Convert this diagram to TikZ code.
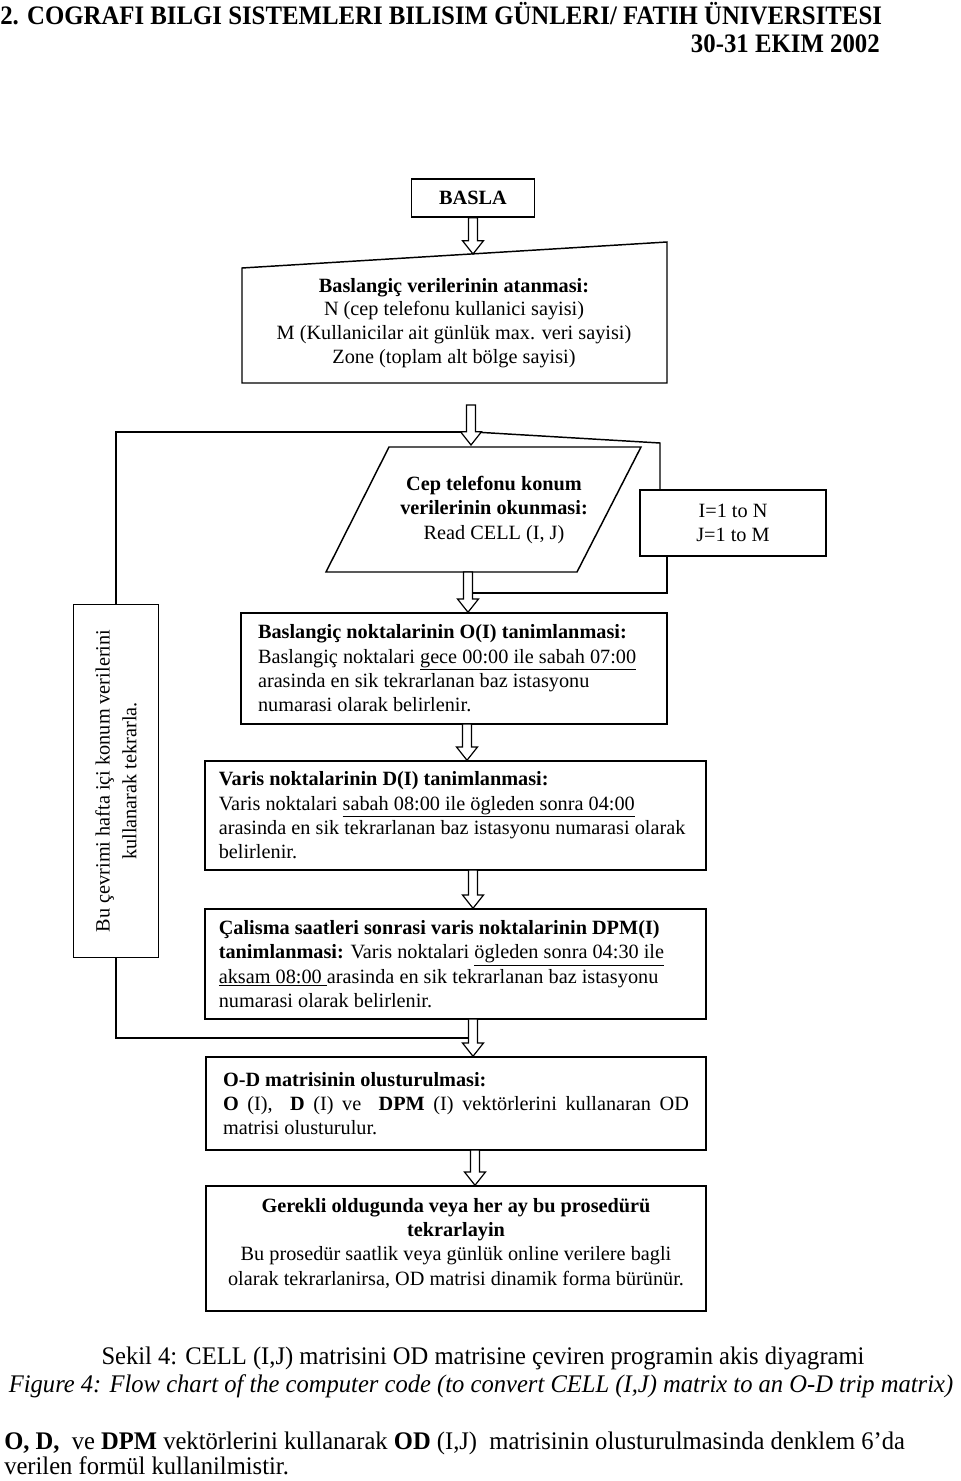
\documentclass[tikz,border=0pt]{standalone}
\usepackage{fontspec}
\setmainfont{Liberation Serif}
\newfontfamily\headfont[FakeStretch=0.93]{Liberation Serif}
\newfontfamily\capfont[FakeStretch=0.97]{Liberation Serif}
\usetikzlibrary{calc}
\newcommand\boxfont{\fontsize{15.2}{18.2}\selectfont}
\tikzset{
  box/.style 2 args={draw, line width=1.1pt, minimum width=#1*0.75pt,
    minimum height=#2*0.75pt, inner sep=0pt, font=\boxfont},
  outline/.style={draw, line width=1.1pt},
  link/.style={draw, line width=1.1pt},
  blockarrow/.style={draw, line width=0.9pt, fill=white,
    to path={let \p1=(\tikztostart), \p2=(\tikztotarget) in
      (\x1-3.4pt,\y1) -- (\x1-3.4pt,\y2+10pt) -- (\x1-7.9pt,\y2+10pt)
      -- (\x1,\y2) -- (\x1+7.9pt,\y2+10pt) -- (\x1+3.4pt,\y2+10pt)
      -- (\x1+3.4pt,\y1) -- cycle}}
}
\begin{document}
\begin{tikzpicture}[x=0.75pt,y=-0.75pt]
  \useasboundingbox (0,0) rectangle (960,1481);

  % header
  \node[anchor=west, inner sep=0pt, font=\headfont\fontsize{20}{22}\selectfont\bfseries] (head) at (0,14)
    {2. COGRAFI BILGI SISTEMLERI BILISIM GÜNLERI/ FATIH ÜNIVERSITESI};
  \node[anchor=east, inner sep=0pt, font=\headfont\fontsize{20}{22}\selectfont\bfseries] (date) at (880,44)
    {30-31 EKIM 2002};

  % flow chart boxes
  \node[box={123}{38}, font=\boxfont\bfseries] (basla) at (473,198) {BASLA};

  \path[outline] (242,383) -- (242,268) -- (667,242) -- (667,383) -- cycle;
  \node[align=center, font=\fontsize{15.2}{17.8}\selectfont] (init) at (454,323)
    {\textbf{Baslangiç verilerinin atanmasi:}\\ N (cep telefonu kullanici sayisi)\\
     M (Kullanicilar ait günlük max. veri sayisi)\\ Zone (toplam alt bölge sayisi)};

  \path[outline] (389,447) -- (641,447) -- (577,572) -- (326,572) -- cycle;
  \node[align=center, font=\boxfont] (read) at (494,510)
    {\textbf{Cep telefonu konum}\\ \textbf{verilerinin okunmasi:}\\ Read CELL (I, J)};

  \node[box={186}{66}, align=center] (loop) at (733,523) {I=1 to N\\ J=1 to M};

  \node[box={353}{85}, rotate=90, align=center] (rot) at (116,781)
    {Bu çevrimi hafta içi konum verilerini\\[2pt] kullanarak tekrarla.};

  \node[box={426}{111}, text width=294pt, align=flush left] (orig) at (454,668.5)
    {\textbf{Baslangiç noktalarinin O(I) tanimlanmasi:}\\
     Baslangiç noktalari \underline{gece 00:00 ile sabah 07:00}\\
     arasinda en sik tekrarlanan baz istasyonu\\
     numarasi olarak belirlenir.};

  \node[box={501}{109}, text width=355pt, align=flush left] (dest) at (455.5,815.5)
    {\textbf{Varis noktalarinin D(I) tanimlanmasi:}\\
     Varis noktalari \underline{sabah 08:00 ile ögleden sonra 04:00}\\
     arasinda en sik tekrarlanan baz istasyonu numarasi olarak\\
     belirlenir.};

  \node[box={501}{110}, text width=355pt, align=flush left] (dpm) at (455.5,964)
    {\textbf{Çalisma saatleri sonrasi varis noktalarinin DPM(I)}\\
     \textbf{tanimlanmasi:} Varis noktalari \underline{ögleden sonra 04:30 ile}\\
     \underline{aksam 08:00\ }arasinda en sik tekrarlanan baz istasyonu\\
     numarasi olarak belirlenir.};

  \node[box={500}{93}, align=left] (od) at (456,1103.5)
    {\textbf{O-D matrisinin olusturulmasi:}\\
     \makebox[349.5pt][s]{\textbf{O} (I),\ \ \textbf{D} (I) ve\ \ \textbf{DPM} (I) vektörlerini kullanaran OD}\\
     matrisi olusturulur.};

  \node[box={500}{125}, align=center] (redo) at (456,1248.5)
    {\textbf{Gerekli oldugunda veya her ay bu prosedürü}\\
     \textbf{tekrarlayin}\\
     Bu prosedür saatlik veya günlük online verilere bagli\\
     olarak tekrarlanirsa, OD matrisi dinamik forma bürünür.\\[-8pt]};

  % arrow ends
  \coordinate (initTop) at (474,254);
  \coordinate (initBot) at (471,405);
  \coordinate (readTop) at (471,445);
  \coordinate (readBot) at (468,572);
  \coordinate (origBot) at (467,724);
  \coordinate (destBot) at (473,870);
  \coordinate (dpmBot) at (473,1019);
  \coordinate (odBot) at (475,1150);
  \coordinate (turnR) at (660,443);
  \coordinate (backR) at (667,593);

  % loop lines
  \path[link] (rot.east) |- (470,432);
  \path[link] (474,432) -- (turnR) -- (turnR |- loop.north);
  \path[link] (backR |- loop.south) -- (backR) -- (readBot |- backR);
  \path[link] (rot.west) |- (dpmBot |- 0,1038);

  % block arrows
  \foreach \a / \b in {basla.south/initTop, initBot/readTop, readBot/orig.north,
      origBot/dest.north, destBot/dpm.north, dpmBot/od.north, odBot/redo.north} {
    \draw[blockarrow] (\a) to (\b);
  }

  % caption
  \node[font=\capfont\fontsize{19}{21}\selectfont] (capTr) at (483,1358)
    {Sekil 4: CELL (I,J) matrisini OD matrisine çeviren programin akis diyagrami};
  \node[font=\capfont\fontsize{19}{21}\selectfont\itshape] (capEn) at (481,1386)
    {Figure 4: Flow chart of the computer code (to convert CELL (I,J) matrix to an O-D trip matrix)};
  \node[anchor=west, inner sep=0pt, font=\capfont\fontsize{19}{21}\selectfont] (note1) at (4,1443)
    {\textbf{O, D,}\ \ ve \textbf{DPM} vektörlerini kullanarak \textbf{OD} (I,J)\ \ matrisinin olusturulmasinda denklem 6’da};
  \node[anchor=west, inner sep=0pt, font=\capfont\fontsize{19}{21}\selectfont] (note2) at (4,1466)
    {verilen formül kullanilmistir.};
\end{tikzpicture}
\end{document}
